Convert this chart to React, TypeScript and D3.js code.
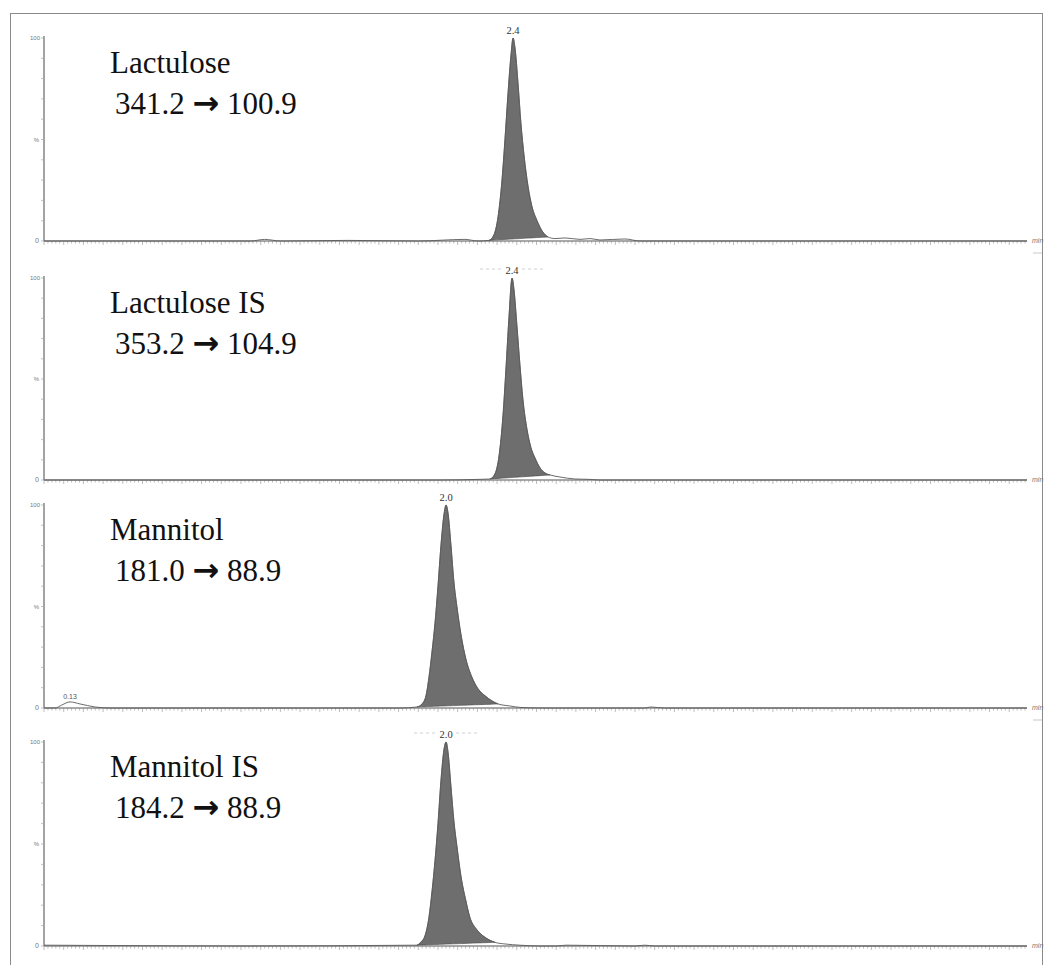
import * as d3 from "d3";

// compounds and MRM transitions, top to bottom
const compounds = ["Lactulose", "Lactulose IS", "Mannitol", "Mannitol IS"];
const precursorMz = ["341.2", "353.2", "181.0", "184.2"];
const productMz = ["100.9", "104.9", "88.9", "88.9"];
const peakLabels = ["2.4", "2.4", "2.0", "2.0"];
// integration window (min) of the shaded peak
const fillStart = [2.259, 2.264, 1.893, 1.893];
const fillEnd = [2.558, 2.569, 2.305, 2.289];

// traces: retention time (min) / relative intensity (%)
const lactuloseTime = [0, 0.5, 1.05, 1.12, 1.2, 1.54, 1.9, 2.137, 2.203, 2.259, 2.284, 2.305, 2.325, 2.34, 2.355, 2.371, 2.381, 2.391, 2.406, 2.421, 2.437, 2.457, 2.477, 2.503, 2.528, 2.558, 2.594, 2.645, 2.721, 2.772, 2.822, 2.949, 3.025, 4.99];
const lactuloseIntensity = [0, 0, 0, 0.8, 0, 0.3, 0, 0.8, 0, 0.3, 3, 12, 30, 50, 72, 92, 100, 95, 78, 58, 42, 27, 17, 10, 5, 2, 1.2, 1.5, 0.8, 1.2, 0.5, 1.0, 0, 0];

const lactuloseIsTime = [0, 1.0, 2.01, 2.203, 2.264, 2.289, 2.31, 2.33, 2.345, 2.36, 2.376, 2.386, 2.401, 2.416, 2.431, 2.452, 2.472, 2.492, 2.518, 2.543, 2.569, 2.619, 2.695, 2.772, 2.822, 4.99];
const lactuloseIsIntensity = [0, 0, 0, 0.3, 0.5, 3, 12, 32, 55, 80, 100, 94, 76, 57, 40, 25, 16, 11, 6, 3.5, 2.5, 1.5, 0.5, 0.3, 0, 0];

const mannitolTime = [0, 0.056, 0.091, 0.132, 0.183, 0.259, 0.335, 1.0, 1.807, 1.893, 1.919, 1.939, 1.954, 1.97, 1.985, 2.0, 2.015, 2.03, 2.041, 2.051, 2.066, 2.081, 2.096, 2.117, 2.142, 2.173, 2.203, 2.239, 2.274, 2.305, 2.365, 2.416, 2.518, 3.05, 3.08, 3.15, 4.99];
const mannitolIntensity = [0, 0, 1.5, 3, 2, 0.5, 0, 0, 0, 0.5, 2, 6, 15, 28, 42, 60, 80, 95, 100, 96, 80, 62, 50, 36, 24, 15, 9.5, 6, 3.5, 2, 1, 0.3, 0, 0, 0.5, 0, 0];

const mannitolIsTime = [0, 0.2, 1.0, 1.893, 1.914, 1.934, 1.954, 1.97, 1.985, 2.0, 2.015, 2.03, 2.041, 2.051, 2.066, 2.081, 2.096, 2.117, 2.142, 2.162, 2.193, 2.228, 2.264, 2.289, 2.34, 2.416, 2.518, 2.6, 2.65, 3.0, 3.05, 3.1, 4.99];
const mannitolIsIntensity = [0.4, 0.3, 0, 0.4, 2, 5, 14, 27, 42, 60, 81, 96, 100, 95, 78, 61, 49, 34, 22, 14, 8.5, 5, 2.8, 1.8, 1, 0.4, 0, 0, 0.4, 0, 0.4, 0, 0];

const traceTimes = [lactuloseTime, lactuloseIsTime, mannitolTime, mannitolIsTime];
const traceIntensities = [lactuloseIntensity, lactuloseIsIntensity, mannitolIntensity, mannitolIsIntensity];

// small labelled side peak in the mannitol trace
const minorPeakTime = 0.132;
const minorPeakLabel = "0.13";

// layout
const W = 1046;
const H = 965;
const panelTop = [38, 278, 505, 742];
const panelBottom = [241, 480, 708, 946];
const x0 = 44;
const x1 = 1027;
const serif = "'Book Antiqua', 'Palatino Linotype', Palatino, 'Liberation Serif', serif";
const sans = "'Liberation Sans', Arial, sans-serif";

const x = d3.scaleLinear().domain([0, 4.99]).range([x0, x1]);
const xTicks = d3.range(0, 250).map((i) => i * 0.02);

function Panel({ i }: { i: number }) {
  const y = d3.scaleLinear().domain([0, 100]).range([panelBottom[i], panelTop[i]]);
  const pts: [number, number][] = traceTimes[i].map((t, k) => [t, traceIntensities[i][k]]);
  const line = d3
    .line<[number, number]>()
    .x((d) => x(d[0]))
    .y((d) => y(d[1]))
    .curve(d3.curveMonotoneX);

  const a = fillStart[i];
  const b = fillEnd[i];
  const va = pts.find((p) => p[0] === a)?.[1] ?? 0;
  const vb = pts.find((p) => p[0] === b)?.[1] ?? 0;
  const base = d3.scaleLinear().domain([a, b]).range([va, vb]);
  const area = d3
    .area<[number, number]>()
    .x((d) => x(d[0]))
    .y0((d) => y(base(d[0])))
    .y1((d) => y(d[1]))
    .curve(d3.curveMonotoneX);
  const peakPts = pts.filter((p) => p[0] >= a && p[0] <= b);

  const apex = pts.reduce((m, p) => (p[1] > m[1] ? p : m), pts[0]);
  const yTicks = d3.range(0, 101, 10);
  const top = panelTop[i];
  const bottom = panelBottom[i];
  const ax = x(apex[0]);

  return (
    <g>
      {/* y axis */}
      <line x1={x0} x2={x0} y1={top - 2} y2={bottom} stroke="#8c8c8c" strokeWidth={1.6} />
      {yTicks.map((v) => (
        <line key={v} x1={x0 - 3} x2={x0} y1={y(v)} y2={y(v)} stroke="#a8a8a8" strokeWidth={0.7} />
      ))}
      <text x={x0 - 4} y={top + 2} fontSize={6} textAnchor="end" fill="#777" fontFamily={sans}>100</text>
      <text x={x0 - 5} y={y(50) + 2} fontSize={6} textAnchor="end" fill="#777" fontFamily={sans}>%</text>
      <text x={x0 - 5} y={bottom + 2} fontSize={7} textAnchor="end" fill="#777" fontFamily={sans}>0</text>

      {/* x axis */}
      {xTicks.map((t, k) => (
        <line
          key={k}
          x1={x(t)}
          x2={x(t)}
          y1={bottom}
          y2={bottom + (k % 5 === 0 ? 4 : 2.5)}
          stroke="#a0a0a0"
          strokeWidth={0.7}
        />
      ))}
      <line x1={x0} x2={x1} y1={bottom} y2={bottom} stroke="#8c8c8c" strokeWidth={1.6} />
      <text x={x1 + 5} y={bottom + 2} fontSize={7} fontStyle="italic" fill="#777" fontFamily={sans}>min</text>

      {/* shaded peak + trace */}
      <path d={area(peakPts) ?? ""} fill="#6e6e6e" stroke="#4a4a4a" strokeWidth={0.6} />
      <path d={line(pts) ?? ""} fill="none" stroke="#5a5a5a" strokeWidth={0.9} />

      {/* faint scan marks beside the label in the IS panels */}
      {(i === 1 || i === 3) && (
        <g stroke="#c4c4c4" strokeWidth={0.8} strokeDasharray="3 3">
          <line x1={ax - 32} x2={ax - 10} y1={top - 9} y2={top - 9} />
          <line x1={ax + 10} x2={ax + 32} y1={top - 9} y2={top - 9} />
        </g>
      )}
      <text x={ax} y={y(100) - 4} fontSize={10.5} textAnchor="middle" fill="#333" fontFamily={serif}>
        {peakLabels[i]}
      </text>
      {i === 2 && (
        <text x={x(minorPeakTime)} y={bottom - 9} fontSize={7} textAnchor="middle" fill="#555" fontFamily={sans}>
          {minorPeakLabel}
        </text>
      )}

      {/* compound name and transition */}
      <text x={110} y={top + 35} fontSize={31} fill="#111" fontFamily={serif}>{compounds[i]}</text>
      <text x={115} y={top + 76} fontSize={31} fill="#111" fontFamily={serif}>
        {precursorMz[i]}{" "}
        <tspan fontFamily="'DejaVu Sans', sans-serif" fontWeight="bold" fontSize={32}>→</tspan>{" "}
        {productMz[i]}
      </text>
    </g>
  );
}

export default function App() {
  return (
    <div style={{ position: "absolute", left: 0, top: 0 }}>
      <svg width={W} height={H} viewBox={`0 0 ${W} ${H}`} style={{ display: "block", background: "#fff" }}>
        <rect x={0} y={0} width={W} height={H} fill="#fff" />
        <rect x={10.5} y={13.5} width={1032} height={H + 10} fill="none" stroke="#8a8a8a" strokeWidth={1} />
        {compounds.map((_, i) => (
          <Panel key={i} i={i} />
        ))}
        {/* faint marks under the min labels */}
        <line x1={1033} x2={1042} y1={253} y2={253} stroke="#c8c8c8" strokeWidth={1} />
        <line x1={1033} x2={1042} y1={720} y2={720} stroke="#c8c8c8" strokeWidth={1} />
      </svg>
    </div>
  );
}
